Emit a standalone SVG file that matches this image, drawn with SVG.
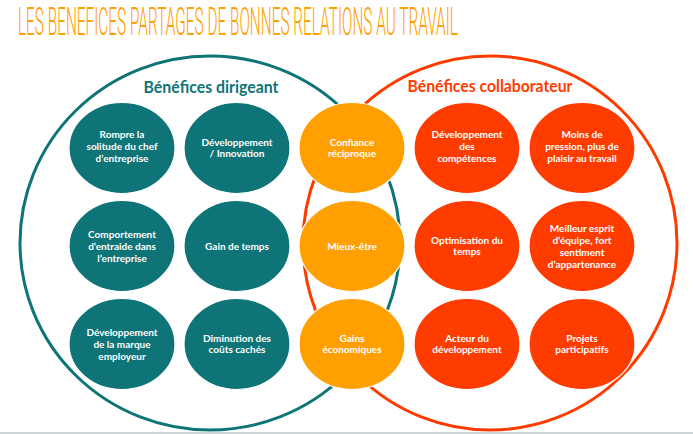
<svg xmlns="http://www.w3.org/2000/svg" width="693" height="434" viewBox="0 0 693 434">
<style>
.title{font-family:Roboto,"DejaVu Sans Condensed",sans-serif;font-weight:300;font-size:39px;fill:#FFA000}
.head{font-family:Lato,"Liberation Sans",sans-serif;font-weight:bold;font-size:17px}
.lbl{font-family:Lato,"Liberation Sans",sans-serif;font-weight:bold;font-size:10px;fill:#ffffff;text-anchor:middle}
.teal{fill:#0E7477;stroke:#ffffff;stroke-width:1.2}
.orange{fill:#FFA000;stroke:#ffffff;stroke-width:1.2}
.red{fill:#FF3C00;stroke:#ffffff;stroke-width:1.2}
</style>
<rect width="693" height="434" fill="#ffffff"/>
<text class="title" transform="translate(18,35) scale(0.36,1)" x="0" y="0" textLength="1222" lengthAdjust="spacingAndGlyphs">LES BENEFICES PARTAGES DE BONNES RELATIONS AU TRAVAIL</text>
<g id="area-dirigeant">
<ellipse cx="210" cy="243" rx="190" ry="187" fill="none" stroke="#0E7477" stroke-width="3"/>
<text class="head" x="211" y="93" fill="#0E7477" text-anchor="middle" textLength="135" lengthAdjust="spacingAndGlyphs">Bénéfices dirigeant</text>
</g>
<g id="area-collaborateur">
<circle cx="490" cy="243" r="187" fill="none" stroke="#FF3C00" stroke-width="3"/>
<text class="head" x="490" y="92" fill="#FF3C00" text-anchor="middle" textLength="165" lengthAdjust="spacingAndGlyphs">Bénéfices collaborateur</text>
</g>
<g id="connectors"/>
<g id="n1"><ellipse class="teal" cx="122" cy="148" rx="53" ry="45.5"/><text class="lbl"><tspan x="122" y="137.5">Rompre la</tspan><tspan x="122" y="149.5">solitude du chef</tspan><tspan x="122" y="161.5">d’entreprise</tspan></text></g>
<g id="n2"><ellipse class="teal" cx="237" cy="148" rx="53" ry="45.5"/><text class="lbl"><tspan x="237" y="145.5">Développement</tspan><tspan x="237" y="157">/ Innovation</tspan></text></g>
<g id="n3"><ellipse class="teal" cx="122" cy="246" rx="53" ry="45.5"/><text class="lbl"><tspan x="122" y="237.5">Comportement</tspan><tspan x="122" y="249.5">d’entraide dans</tspan><tspan x="122" y="261.5">l’entreprise</tspan></text></g>
<g id="n4"><ellipse class="teal" cx="237" cy="246" rx="53" ry="45.5"/><text class="lbl"><tspan x="237" y="249.5">Gain de temps</tspan></text></g>
<g id="n5"><ellipse class="teal" cx="122" cy="344" rx="53" ry="45.5"/><text class="lbl"><tspan x="122" y="335.5">Développement</tspan><tspan x="122" y="347.5">de la marque</tspan><tspan x="122" y="359.5">employeur</tspan></text></g>
<g id="n6"><ellipse class="teal" cx="237" cy="344" rx="53" ry="45.5"/><text class="lbl"><tspan x="237" y="341.5">Diminution des</tspan><tspan x="237" y="353">coûts cachés</tspan></text></g>
<g id="n7"><ellipse class="orange" cx="352" cy="148" rx="53" ry="45.5"/><text class="lbl"><tspan x="352" y="145.5">Confiance</tspan><tspan x="352" y="157">réciproque</tspan></text></g>
<g id="n8"><ellipse class="orange" cx="352" cy="246" rx="53" ry="45.5"/><text class="lbl"><tspan x="352" y="249.5">Mieux-être</tspan></text></g>
<g id="n9"><ellipse class="orange" cx="352" cy="344" rx="53" ry="45.5"/><text class="lbl"><tspan x="352" y="341.5">Gains</tspan><tspan x="352" y="353">économiques</tspan></text></g>
<g id="n10"><ellipse class="red" cx="467" cy="148" rx="53" ry="45.5"/><text class="lbl"><tspan x="467" y="137.5">Développement</tspan><tspan x="467" y="149.5">des</tspan><tspan x="467" y="161.5">compétences</tspan></text></g>
<g id="n11"><ellipse class="red" cx="582" cy="148" rx="53" ry="45.5"/><text class="lbl"><tspan x="582" y="137.5">Moins de</tspan><tspan x="582" y="149.5">pression, plus de</tspan><tspan x="582" y="161.5">plaisir au travail</tspan></text></g>
<g id="n12"><ellipse class="red" cx="467" cy="246" rx="53" ry="45.5"/><text class="lbl"><tspan x="467" y="243.5">Optimisation du</tspan><tspan x="467" y="255">temps</tspan></text></g>
<g id="n13"><ellipse class="red" cx="582" cy="246" rx="53" ry="45.5"/><text class="lbl"><tspan x="582" y="231.5">Meilleur esprit</tspan><tspan x="582" y="243.5">d’équipe, fort</tspan><tspan x="582" y="255.5">sentiment</tspan><tspan x="582" y="267.5">d’appartenance</tspan></text></g>
<g id="n14"><ellipse class="red" cx="467" cy="344" rx="53" ry="45.5"/><text class="lbl"><tspan x="467" y="341.5">Acteur du</tspan><tspan x="467" y="353">développement</tspan></text></g>
<g id="n15"><ellipse class="red" cx="582" cy="344" rx="53" ry="45.5"/><text class="lbl"><tspan x="582" y="341.5">Projets</tspan><tspan x="582" y="353">participatifs</tspan></text></g>
<rect x="0" y="432" width="693" height="2" fill="#CCD6D6"/>
</svg>
